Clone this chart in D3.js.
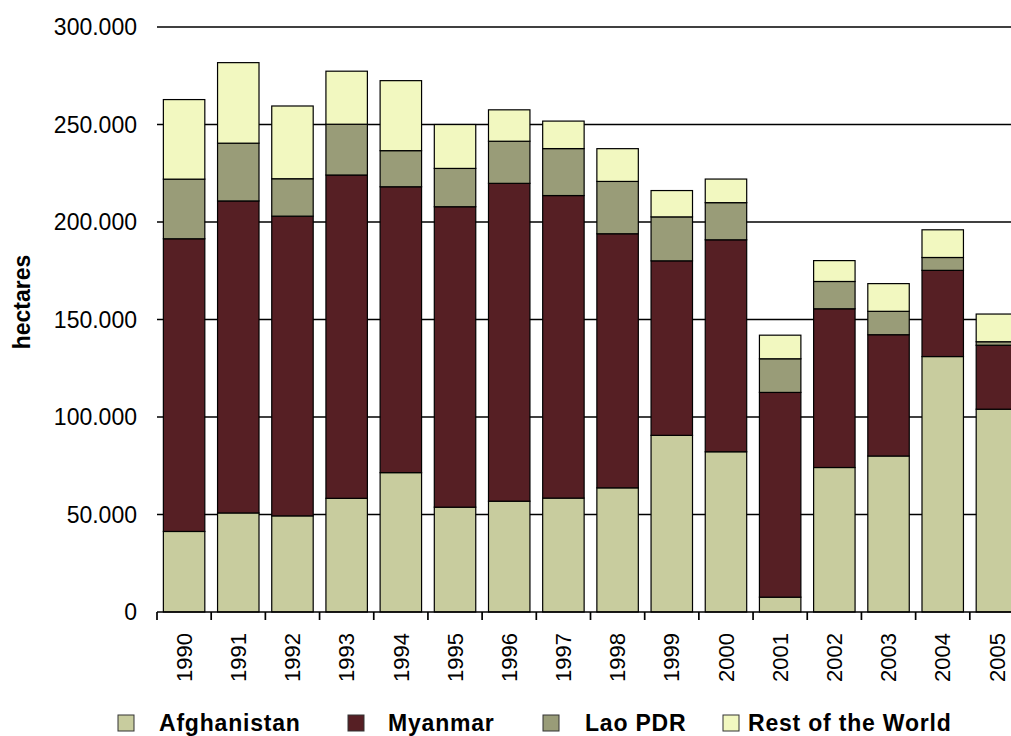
<!DOCTYPE html>
<html>
<head>
<meta charset="utf-8">
<script src="https://cdn.jsdelivr.net/npm/d3@7"></script>
<style>
  body { margin: 0; background: #fff; }
  text { font-family: "Liberation Sans", Arial, sans-serif; fill: #000; }
</style>
</head>
<body>
<svg id="chart"></svg>
<script>
let years = ['1990', '1991', '1992', '1993', '1994', '1995', '1996', '1997',
             '1998', '1999', '2000', '2001', '2002', '2003', '2004', '2005'];
let afghanistan = [41300, 50800, 49300, 58300, 71470, 53759, 56824, 58416,
                   63674, 90583, 82171, 7606, 74100, 80000, 131000, 104000];
let myanmar = [150100, 160000, 153700, 165800, 146600, 154070, 163000, 155150,
               130300, 89500, 108700, 105000, 81400, 62200, 44200, 32800];
let lao_pdr = [30580, 29625, 19190, 26040, 18520, 19650, 21601, 24082,
               26837, 22543, 19052, 17255, 14000, 12000, 6600, 1800];
let rest_of_world = [40800, 41300, 37300, 27200, 35900, 22500, 16100, 14100,
                     16800, 13500, 12100, 12100, 10700, 14200, 14200, 14200];
let series_names = ['Afghanistan', 'Myanmar', 'Lao PDR', 'Rest of the World'];
let series_colors = ['#c8cc9e', '#561f24', '#999c78', '#f2f8c0'];
let y_ticks = [0, 50000, 100000, 150000, 200000, 250000, 300000];

let width = 1011, height = 736;
let svg = d3.select('#chart').attr('width', width).attr('height', height);

// 绘图区 (右侧超出画布，最后一根柱子被截断)
let margin = ({ top: 27, right: -13, bottom: 124, left: 157 });

let table = years.map((y, i) => ({
    year: y,
    'Afghanistan': afghanistan[i],
    'Myanmar': myanmar[i],
    'Lao PDR': lao_pdr[i],
    'Rest of the World': rest_of_world[i]
}));
let stacked = d3.stack().keys(series_names)(table);

let x = d3.scaleBand(years, [margin.left, width - margin.right])
    .paddingInner(0.235).paddingOuter(0.1175);
let y = d3.scaleLinear([0, 300000], [height - margin.bottom, margin.top]);
let color = d3.scaleOrdinal(series_names, series_colors);

let fmt = d3.formatLocale({ decimal: ',', thousands: '.', grouping: [3], currency: ['', ''] }).format(',d');

// 网格线
svg.append('g')
    .selectAll('line')
    .data(y_ticks.filter(d => d > 0))
    .join('line')
    .attr('x1', margin.left).attr('x2', width)
    .attr('y1', d => y(d)).attr('y2', d => y(d))
    .attr('stroke', '#000').attr('stroke-width', 1.7);

// y轴标签
svg.append('g')
    .selectAll('text')
    .data(y_ticks)
    .join('text')
    .attr('x', margin.left - 20)
    .attr('y', d => y(d))
    .attr('dy', '0.35em')
    .attr('text-anchor', 'end')
    .style('font-size', '23px')
    .text(d => fmt(d));

svg.append('text')
    .attr('transform', `translate(30,302) rotate(-90)`)
    .attr('text-anchor', 'middle')
    .style('font-size', '23px')
    .style('font-weight', 'bold')
    .text('hectares');

// 堆叠柱
svg.append('g')
    .selectAll('g')
    .data(stacked)
    .join('g')
    .attr('fill', d => color(d.key))
    .selectAll('rect')
    .data(d => d)
    .join('rect')
    .attr('x', d => x(d.data.year))
    .attr('width', x.bandwidth())
    .attr('y', d => y(d[1]))
    .attr('height', d => y(d[0]) - y(d[1]))
    .attr('stroke', '#000')
    .attr('stroke-width', 1.2);

// x轴
let xAxis = svg.append('g').attr('transform', `translate(0,${y(0)})`);
xAxis.append('line')
    .attr('x1', margin.left).attr('x2', width)
    .attr('stroke', '#000').attr('stroke-width', 1.7);
xAxis.selectAll('.tick')
    .data(years)
    .join('line')
    .attr('class', 'tick')
    .attr('x1', d => x(d) - x.step() * x.paddingInner() / 2)
    .attr('x2', d => x(d) - x.step() * x.paddingInner() / 2)
    .attr('y1', 0).attr('y2', 8)
    .attr('stroke', '#000').attr('stroke-width', 1.7);
xAxis.selectAll('.label')
    .data(years)
    .join('text')
    .attr('class', 'label')
    .attr('transform', d => `translate(${x(d) + x.bandwidth() / 2},21) rotate(-90)`)
    .attr('dy', '0.35em')
    .attr('text-anchor', 'end')
    .style('font-size', '22px')
    .text(d => d);

// 图例
let legend_x = [118, 348, 543, 723];
let legend_gap = [41, 40, 42, 25];
let legend = svg.append('g')
    .selectAll('g')
    .data(series_names)
    .join('g')
    .attr('transform', (d, i) => `translate(${legend_x[i]},715)`);
legend.append('rect')
    .attr('width', 16).attr('height', 16)
    .attr('fill', d => color(d))
    .attr('stroke', '#333').attr('stroke-width', 1);
legend.append('text')
    .attr('x', (d, i) => legend_gap[i])
    .attr('y', 16)
    .style('font-size', '23px')
    .style('font-weight', 'bold')
    .style('letter-spacing', '0.8px')
    .text(d => d);
</script>
</body>
</html>
